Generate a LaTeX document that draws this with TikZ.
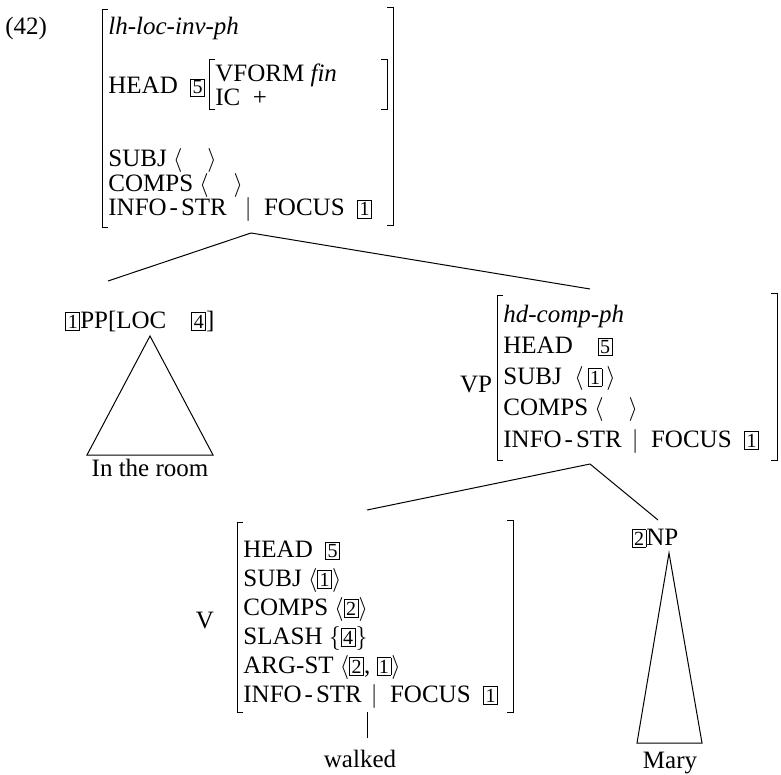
\documentclass[tikz,border=0pt]{standalone}
\usepackage{fontspec}
\setmainfont{Liberation Serif}
\newcommand{\tg}[1]{{\setlength{\fboxsep}{0.8pt}\setlength{\fboxrule}{0.4pt}\fbox{\fontsize{10}{10}\selectfont #1}}}
\newcommand{\istr}{INFO\kern1.5pt-\kern1.5pt STR}
\tikzset{
  feat/.style={anchor=base west, inner sep=0pt, font=\fontsize{12.5}{14}\selectfont},
  word/.style={anchor=base, inner sep=0pt, font=\fontsize{12.5}{14}\selectfont},
  edge/.style={line width=0.5pt},
}
% avm brackets: x, top, bottom
\newcommand{\lbrk}[3]{\draw[edge] (#1+6,#2) -- (#1,#2) -- (#1,#3) -- (#1+6,#3);}
\newcommand{\rbrk}[3]{\draw[edge] (#1-6,#2) -- (#1,#2) -- (#1,#3) -- (#1-6,#3);}
\begin{document}
\begin{tikzpicture}[x=0.5pt,y=-0.5pt]
\useasboundingbox (0,0) rectangle (781,775);

% mother node
\node[feat] (num) at (5,35) {(42)};
\lbrk{102}{10}{228}
\rbrk{393}{8}{226}
\node[feat] (s-type) at (108,35) {\textit{lh-loc-inv-ph}};
\node[feat] (s-head) at (108,94) {HEAD\enspace\tg{5}};
\lbrk{209}{60}{110}
\rbrk{387}{60}{110}
\node[feat] (s-vform) at (215,82) {VFORM \textit{fin}};
\node[feat] (s-ic) at (215,106) {IC\enspace +};
\node[feat] (s-subj) at (108,167) {SUBJ $\langle\quad\rangle$};
\node[feat] (s-comps) at (108,192) {COMPS $\langle\quad\rangle$};
\node[feat] (s-info) at (108,216) {\istr\hspace{9pt}$\mid$\enspace FOCUS\enspace\tg{1}};
\coordinate (s-apex) at (251,233);

% PP daughter
\node[word] (pp) at (140,328) {\tg{1}PP[LOC\quad\tg{4}]};
\coordinate (pp-top) at (108,281);
\coordinate (pp-apex) at (150,336);
\coordinate (pp-left) at (87,455);
\coordinate (pp-right) at (213,455);
\node[word] (room) at (150,476) {In the room};
\draw[edge] (s-apex) -- (pp-top);
\draw[edge] (pp-apex) -- (pp-left) -- (pp-right) -- cycle;

% VP daughter
\node[word] (vp) at (476,392) {VP};
\lbrk{497}{295}{460}
\rbrk{777}{293}{460}
\node[feat] (vp-type) at (503,322) {\textit{hd-comp-ph}};
\node[feat] (vp-head) at (503,353) {HEAD\quad\tg{5}};
\node[feat] (vp-subj) at (503,384) {SUBJ\ \ $\langle\,$\tg{1}$\,\rangle$};
\node[feat] (vp-comps) at (503,415) {COMPS $\langle\quad\rangle$};
\node[feat] (vp-info) at (503,447) {\istr\hspace{5pt}$\mid$\enspace FOCUS\enspace\tg{1}};
\coordinate (vp-top) at (590,289);
\coordinate (vp-apex) at (590,464);
\draw[edge] (s-apex) -- (vp-top);

% V
\node[word] (v) at (205,628) {V};
\lbrk{237}{522}{712}
\rbrk{513}{520}{712}
\node[feat] (v-head) at (243,557) {HEAD\enspace\tg{5}};
\node[feat] (v-subj) at (243,586) {SUBJ $\langle$\tg{1}$\rangle$};
\node[feat] (v-comps) at (243,615) {COMPS $\langle$\tg{2}$\rangle$};
\node[feat] (v-slash) at (243,644) {SLASH $\{$\tg{4}$\}$};
\node[feat] (v-argst) at (243,673) {ARG-ST $\langle$\tg{2}, \tg{1}$\rangle$};
\node[feat] (v-info) at (243,702) {\istr\hspace{4.5pt}$\mid$\enspace FOCUS\enspace\tg{1}};
\coordinate (v-top) at (367,510);
\coordinate (v-bar) at (367,712);
\coordinate (v-foot) at (367,738);
\node[word] (walked) at (360,767) {walked};
\draw[edge] (vp-apex) -- (v-top);
\draw[edge] (v-bar) -- (v-foot);

% NP
\node[word] (np) at (655,545) {\tg{2}NP};
\coordinate (np-top) at (658,520);
\coordinate (np-apex) at (669,553);
\coordinate (np-left) at (637,743);
\coordinate (np-right) at (702,743);
\node[word] (mary) at (670,768) {Mary};
\draw[edge] (vp-apex) -- (np-top);
\draw[edge] (np-apex) -- (np-left) -- (np-right) -- cycle;
\end{tikzpicture}
\end{document}
